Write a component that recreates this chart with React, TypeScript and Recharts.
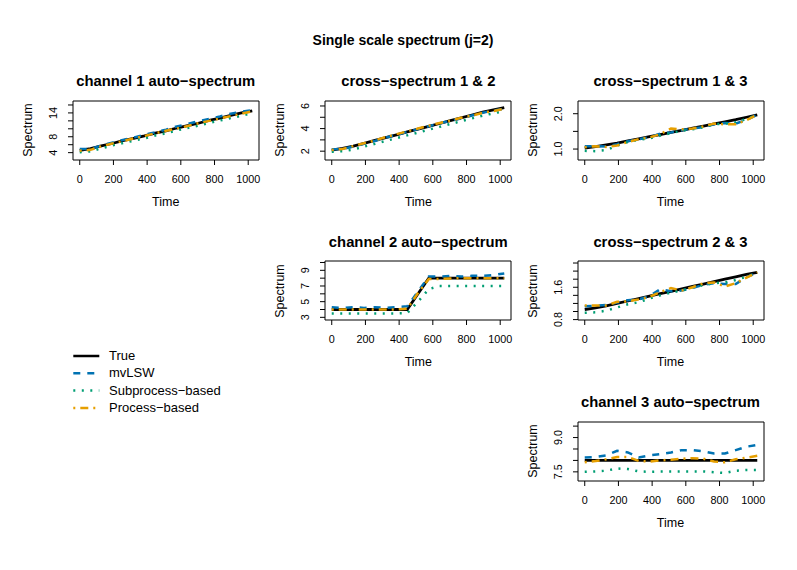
import React from "react";
import { LineChart, Line, XAxis, YAxis, ReferenceArea } from "recharts";

const FONT = "'Liberation Sans', Arial, Helvetica, sans-serif";

const times = [0, 64, 128, 192, 256, 320, 384, 448, 512, 576, 640, 704, 768, 832, 896, 960, 1024];
const xTicks = [0, 200, 400, 600, 800, 1000];

// channel 1 auto-spectrum
const ch1True = [4.6, 5.0, 5.7, 6.3, 7.0, 7.6, 8.2, 8.9, 9.5, 10.2, 10.8, 11.4, 12.1, 12.7, 13.4, 14.0, 14.5];
const ch1Mv = [4.9, 4.9, 5.8, 6.5, 7.2, 7.8, 8.5, 9.1, 9.8, 10.6, 11.2, 11.9, 12.5, 13.1, 13.8, 14.3, 14.7];
const ch1Sub = [4.1, 4.3, 5.1, 5.8, 6.4, 7.0, 7.6, 8.3, 8.9, 9.6, 10.2, 10.8, 11.5, 12.1, 12.7, 13.3, 13.9];
const ch1Proc = [4.5, 4.7, 5.6, 6.3, 6.9, 7.6, 8.2, 8.9, 9.5, 10.1, 10.7, 11.4, 12.0, 12.6, 13.2, 13.8, 14.4];

// cross-spectrum 1 & 2
const c12True = [2.1, 2.25, 2.45, 2.7, 2.95, 3.2, 3.45, 3.7, 3.95, 4.2, 4.45, 4.7, 4.95, 5.2, 5.45, 5.65, 5.85];
const c12Mv = [2.15, 2.2, 2.4, 2.65, 2.9, 3.2, 3.45, 3.7, 3.95, 4.2, 4.45, 4.7, 4.9, 5.15, 5.4, 5.6, 5.75];
const c12Sub = [1.95, 2.0, 2.15, 2.4, 2.65, 2.9, 3.15, 3.4, 3.65, 3.9, 4.15, 4.4, 4.65, 4.9, 5.15, 5.35, 5.55];
const c12Proc = [2.1, 2.2, 2.45, 2.7, 2.95, 3.25, 3.5, 3.75, 4.0, 4.25, 4.5, 4.7, 4.95, 5.15, 5.4, 5.55, 5.75];

// cross-spectrum 1 & 3
const c13True = [1.03, 1.07, 1.12, 1.17, 1.23, 1.29, 1.35, 1.41, 1.47, 1.53, 1.59, 1.65, 1.71, 1.77, 1.83, 1.9, 1.97];
const c13Mv = [1.08, 1.08, 1.07, 1.14, 1.22, 1.28, 1.33, 1.44, 1.47, 1.53, 1.58, 1.62, 1.7, 1.74, 1.72, 1.83, 1.97];
const c13Sub = [0.95, 0.94, 0.97, 1.1, 1.2, 1.26, 1.3, 1.38, 1.45, 1.52, 1.56, 1.62, 1.7, 1.72, 1.76, 1.85, 1.97];
const c13Proc = [1.05, 1.08, 1.06, 1.1, 1.2, 1.28, 1.33, 1.42, 1.58, 1.56, 1.58, 1.64, 1.72, 1.7, 1.7, 1.82, 1.97];

// channel 2 auto-spectrum
const ch2True = [4.0, 4.0, 4.0, 4.0, 4.0, 4.0, 4.0, 4.0, 6.0, 8.0, 8.0, 8.0, 8.0, 8.0, 8.0, 8.0, 8.0];
const ch2Mv = [4.3, 4.2, 4.3, 4.2, 4.3, 4.2, 4.3, 4.4, 6.3, 8.2, 8.2, 8.3, 8.2, 8.3, 8.3, 8.4, 8.6];
const ch2Sub = [3.5, 3.5, 3.5, 3.5, 3.5, 3.5, 3.5, 3.55, 5.0, 6.6, 7.0, 7.0, 7.0, 7.0, 7.0, 7.0, 7.0];
const ch2Proc = [4.0, 4.0, 4.0, 4.0, 4.0, 4.0, 4.0, 4.1, 6.1, 7.9, 7.9, 7.95, 8.0, 8.0, 8.0, 8.0, 8.0];

// cross-spectrum 2 & 3
const c23True = [1.05, 1.09, 1.14, 1.2, 1.26, 1.32, 1.38, 1.44, 1.5, 1.56, 1.62, 1.68, 1.74, 1.8, 1.86, 1.92, 1.97];
const c23Mv = [1.13, 1.14, 1.16, 1.22, 1.28, 1.3, 1.38, 1.55, 1.5, 1.52, 1.58, 1.66, 1.7, 1.68, 1.68, 1.85, 1.97];
const c23Sub = [0.97, 0.98, 1.02, 1.1, 1.18, 1.23, 1.32, 1.4, 1.47, 1.52, 1.6, 1.65, 1.7, 1.72, 1.78, 1.86, 1.97];
const c23Proc = [1.15, 1.15, 1.15, 1.24, 1.25, 1.3, 1.36, 1.48, 1.58, 1.52, 1.6, 1.7, 1.72, 1.62, 1.7, 1.84, 1.97];

// channel 3 auto-spectrum
const ch3True = [8.0, 8.0, 8.0, 8.0, 8.0, 8.0, 8.0, 8.0, 8.0, 8.0, 8.0, 8.0, 8.0, 8.0, 8.0, 8.0, 8.0];
const ch3Mv = [8.13, 8.15, 8.22, 8.42, 8.35, 8.13, 8.22, 8.27, 8.35, 8.45, 8.45, 8.4, 8.3, 8.3, 8.45, 8.6, 8.68];
const ch3Sub = [7.5, 7.52, 7.55, 7.65, 7.62, 7.52, 7.5, 7.52, 7.52, 7.52, 7.52, 7.52, 7.48, 7.45, 7.55, 7.58, 7.58];
const ch3Proc = [7.92, 7.97, 8.05, 8.15, 8.15, 7.98, 7.95, 8.0, 8.03, 8.07, 8.1, 8.07, 7.95, 7.92, 8.05, 8.12, 8.2];

const seriesNames = ["True", "mvLSW", "Subprocess\u2212based", "Process\u2212based"];
const seriesColors = ["#000000", "#0072B2", "#009E73", "#E69F00"];
const seriesDash = ["", "7 7", "2 6.5", "2 5 8 5"];
const seriesKeys = ["tru", "mv", "sub", "proc"];

const colX = [72.7, 325.3, 577.5];
const rowY = [100.5, 261, 421.5];
const BOX_W = 186;
const BOX_H = 59;
const ML = 60;
const MT = 10;
const MR = 10;
const XH = 40;

type PanelDef = {
  title: string;
  col: number;
  row: number;
  domain: [number, number];
  ticks: number[];
  labels: Record<string, string>;
  series: number[][];
};

const panels: PanelDef[] = [
  { title: "channel 1 auto\u2212spectrum", col: 0, row: 0, domain: [2.15, 17.0], ticks: [4, 6, 8, 10, 12, 14, 16], labels: { "4": "4", "8": "8", "14": "14" }, series: [ch1True, ch1Mv, ch1Sub, ch1Proc] },
  { title: "cross\u2212spectrum 1 & 2", col: 1, row: 0, domain: [1.22, 6.44], ticks: [2, 3, 4, 5, 6], labels: { "2": "2", "4": "4", "6": "6" }, series: [c12True, c12Mv, c12Sub, c12Proc] },
  { title: "cross\u2212spectrum 1 & 3", col: 2, row: 0, domain: [0.69, 2.36], ticks: [1.0, 1.5, 2.0], labels: { "1": "1.0", "2": "2.0" }, series: [c13True, c13Mv, c13Sub, c13Proc] },
  { title: "channel 2 auto\u2212spectrum", col: 1, row: 1, domain: [2.66, 10.19], ticks: [3, 4, 5, 6, 7, 8, 9, 10], labels: { "3": "3", "5": "5", "7": "7", "9": "9" }, series: [ch2True, ch2Mv, ch2Sub, ch2Proc] },
  { title: "cross\u2212spectrum 2 & 3", col: 2, row: 1, domain: [0.79, 2.25], ticks: [0.8, 1.0, 1.2, 1.4, 1.6, 1.8, 2.0, 2.2], labels: { "0.8": "0.8", "1.6": "1.6" }, series: [c23True, c23Mv, c23Sub, c23Proc] },
  { title: "channel 3 auto\u2212spectrum", col: 2, row: 2, domain: [7.1, 9.68], ticks: [7.5, 8.0, 8.5, 9.0, 9.5], labels: { "7.5": "7.5", "9": "9.0" }, series: [ch3True, ch3Mv, ch3Sub, ch3Proc] },
];

function makeYTick(labels: Record<string, string>) {
  return (props: any) => {
    const { x, y, payload } = props;
    const lab = labels[String(payload.value)];
    if (!lab) return <g />;
    return (
      <text x={x} y={y} transform={`rotate(-90 ${x} ${y})`} textAnchor="middle" fontSize={10.8} fill="#000" fontFamily={FONT}>
        {lab}
      </text>
    );
  };
}

const XTick = (props: any) => {
  const { x, y, payload } = props;
  return (
    <text x={x} y={y + 3.8} textAnchor="middle" fontSize={10.8} fill="#000" fontFamily={FONT}>
      {String(payload.value)}
    </text>
  );
};

function Panel({ p }: { p: PanelDef }) {
  const left = colX[p.col];
  const top = rowY[p.row];
  const data = times.map((t, i) => {
    const row: any = { t };
    seriesKeys.forEach((k, j) => {
      row[k] = p.series[j][i];
    });
    return row;
  });
  const W = ML + BOX_W + MR;
  const H = MT + BOX_H + XH;
  return (
    <>
      <div style={{ position: "absolute", left: left - 60, top: top - 19.5 - 10, width: BOX_W + 120, height: 20, lineHeight: "20px", textAlign: "center", fontFamily: FONT, fontWeight: "bold", fontSize: 14.8, color: "#000", whiteSpace: "nowrap" }}>
        {p.title}
      </div>
      <div style={{ position: "absolute", left: left, top: top + BOX_H + 42 - 10, width: BOX_W, height: 20, lineHeight: "20px", textAlign: "center", fontFamily: FONT, fontSize: 12.5, color: "#000" }}>
        Time
      </div>
      <div style={{ position: "absolute", left: left - 45 - 50, top: top + BOX_H / 2 - 10, width: 100, height: 20, lineHeight: "20px", textAlign: "center", fontFamily: FONT, fontSize: 12.5, color: "#000", transform: "rotate(-90deg)" }}>
        Spectrum
      </div>
      <div style={{ position: "absolute", left: left - ML, top: top - MT }}>
        <LineChart width={W} height={H} data={data} margin={{ top: MT, right: MR, left: 0, bottom: 0 }}>
          <XAxis
            dataKey="t"
            type="number"
            domain={[-40, 1064]}
            allowDataOverflow
            ticks={xTicks}
            interval={0}
            height={XH}
            axisLine={false}
            tickLine={{ stroke: "#000" }}
            tickSize={5}
            tickMargin={14}
            tick={XTick}
          />
          <YAxis
            type="number"
            domain={p.domain}
            allowDataOverflow
            ticks={p.ticks}
            interval={0}
            width={ML}
            axisLine={false}
            tickLine={{ stroke: "#000" }}
            tickSize={5}
            tickMargin={11}
            tick={makeYTick(p.labels)}
          />
          <ReferenceArea x1={-40} x2={1064} y1={p.domain[0]} y2={p.domain[1]} fill="none" fillOpacity={0} stroke="#000" strokeWidth={1} ifOverflow="visible" />
          {seriesKeys.map((k, j) => (
            <Line
              key={k}
              dataKey={k}
              type="linear"
              stroke={seriesColors[j]}
              strokeWidth={j === 0 ? 2.8 : 2.5}
              strokeDasharray={seriesDash[j] || undefined}
              dot={false}
              activeDot={false}
              isAnimationActive={false}
            />
          ))}
        </LineChart>
      </div>
    </>
  );
}

function LegendBox() {
  const ys = [356, 373.3, 390.6, 408];
  return (
    <>
      <svg style={{ position: "absolute", left: 0, top: 0 }} width={120} height={430}>
        {seriesKeys.map((k, j) => (
          <line key={k} x1={73.3} x2={99.3} y1={ys[j]} y2={ys[j]} stroke={seriesColors[j]} strokeWidth={2.5} strokeDasharray={seriesDash[j] || undefined} />
        ))}
      </svg>
      {seriesNames.map((n, j) => (
        <div key={n} style={{ position: "absolute", left: 109, top: ys[j] - 10, height: 20, lineHeight: "20px", fontFamily: FONT, fontSize: 13, color: "#000", whiteSpace: "nowrap" }}>
          {n}
        </div>
      ))}
    </>
  );
}

export default function App() {
  return (
    <div style={{ position: "absolute", left: 0, top: 0, width: 797, height: 570, background: "#fff", overflow: "hidden" }}>
      <div style={{ position: "absolute", left: 253, top: 30, width: 300, height: 20, lineHeight: "20px", textAlign: "center", fontFamily: FONT, fontWeight: "bold", fontSize: 14, color: "#000" }}>
        Single scale spectrum (j=2)
      </div>
      {panels.map((p) => (
        <Panel key={p.title} p={p} />
      ))}
      <LegendBox />
    </div>
  );
}
